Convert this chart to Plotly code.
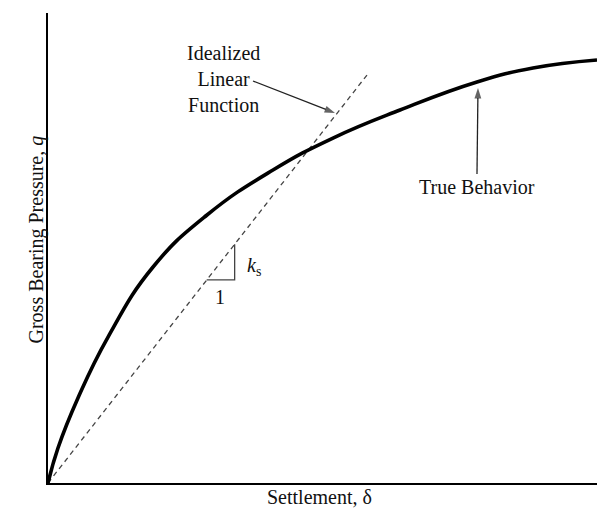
import plotly.graph_objects as go

# True behaviour curve (settlement vs gross bearing pressure), arbitrary units
settlement = [0, 0.182, 0.546, 1.093, 1.913, 2.896, 4.098, 5.191, 6.412, 7.814, 8.834, 10.0]
pressure = [0, 0.745, 1.809, 3.106, 4.596, 5.702, 6.660, 7.340, 7.936, 8.532, 8.830, 9.0]

# Idealized linear function
linear_x = [0, 5.81]
linear_y = [0, 8.68]

# Slope triangle (run = 1, rise = k_s)
tri_x = [2.89, 3.40, 3.40]
tri_y = [4.32, 4.32, 5.08]

# Leader arrows (tail -> head)
arrow_linear_x = [3.734, 5.228]
arrow_linear_y = [8.553, 7.872]
arrow_true_x = [7.814, 7.832]
arrow_true_y = [6.574, 8.404]

FONT = "Liberation Serif, Times New Roman, serif"
FS = 20

fig = go.Figure()
fig.add_trace(go.Scatter(x=linear_x, y=linear_y, mode="lines",
                         line=dict(color="#444", width=1.3, dash="5px,4px"),
                         hoverinfo="skip"))
fig.add_trace(go.Scatter(x=settlement, y=pressure, mode="lines",
                         line=dict(color="black", width=3.6, shape="spline", smoothing=1.3),
                         hoverinfo="skip"))
fig.add_trace(go.Scatter(x=tri_x, y=tri_y, mode="lines",
                         line=dict(color="#444", width=1.3), hoverinfo="skip"))
for ax_, ay_ in [(arrow_linear_x, arrow_linear_y), (arrow_true_x, arrow_true_y)]:
    fig.add_trace(go.Scatter(x=ax_, y=ay_, mode="lines+markers",
                             line=dict(color="#222", width=1.3),
                             marker=dict(symbol="arrow", size=[0, 11], angleref="previous",
                                         color="#222", line=dict(width=0)),
                             hoverinfo="skip"))

annotations = [
    dict(x=3.19, y=8.60, text="Idealized<br>Linear<br>Function", showarrow=False,
         font=dict(family=FONT, size=FS, color="#111"), align="center"),
    dict(x=7.81, y=6.30, text="True Behavior", showarrow=False,
         font=dict(family=FONT, size=FS, color="#111")),
    dict(x=3.13, y=3.96, text="1", showarrow=False,
         font=dict(family=FONT, size=FS, color="#111")),
    dict(x=3.75, y=4.60, text="<i>k</i><sub>s</sub>", showarrow=False,
         font=dict(family=FONT, size=FS, color="#111")),
    dict(xref="paper", yref="paper", x=(319 - 48) / 549, y=-(510 - 483) / 470,
         text="Settlement, δ", showarrow=False,
         font=dict(family=FONT, size=FS, color="#111")),
    dict(xref="paper", yref="paper", x=-(48 - 22) / 549, y=(483 - 240) / 470,
         text="Gross Bearing Pressure, <i>q</i>", showarrow=False, textangle=-90,
         font=dict(family=FONT, size=FS, color="#111")),
]

fig.update_layout(
    width=597, height=525,
    margin=dict(l=48, r=0, t=13, b=42),
    paper_bgcolor="white", plot_bgcolor="white",
    showlegend=False,
    hovermode=False,
    annotations=annotations,
    xaxis=dict(range=[0, 10], showgrid=False, zeroline=False, showticklabels=False,
               ticks="", showline=True, linecolor="black", linewidth=2),
    yaxis=dict(range=[0, 10], showgrid=False, zeroline=False, showticklabels=False,
               ticks="", showline=True, linecolor="black", linewidth=2),
)

fig.write_html("out.html", config={"displayModeBar": False},
               post_script="document.body.style.margin='0px';")
